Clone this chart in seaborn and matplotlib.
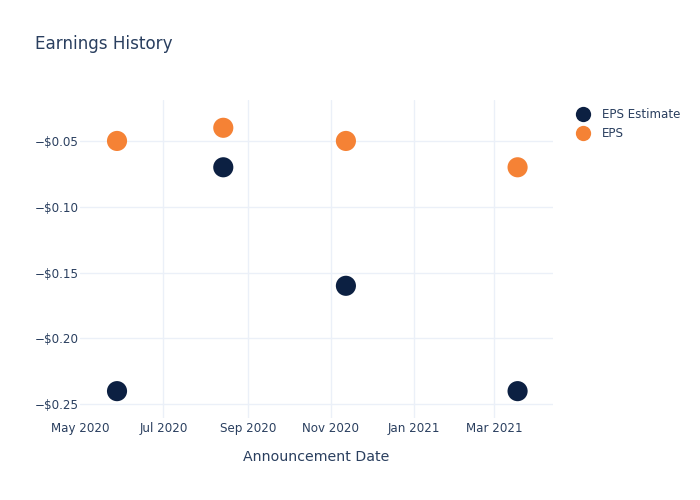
import matplotlib
matplotlib.use("Agg")
import matplotlib.pyplot as plt
import matplotlib.dates as mdates
from matplotlib.ticker import FuncFormatter, FixedLocator
from matplotlib.lines import Line2D
import seaborn as sns
import pandas as pd

dates = ["2020-05-28", "2020-08-14", "2020-11-12", "2021-03-18"]
eps_estimate = [-0.24, -0.07, -0.16, -0.24]
eps_actual = [-0.05, -0.04, -0.05, -0.07]
series_names = ["EPS Estimate", "EPS"]
colors = {"EPS Estimate": "#0c2042", "EPS": "#f58235"}
x_ticks = ["2020-05-01", "2020-07-01", "2020-09-01", "2020-11-01", "2021-01-01", "2021-03-01"]
y_ticks = [-0.25, -0.20, -0.15, -0.10, -0.05]

df = pd.DataFrame({
    "date": pd.to_datetime(dates * 2),
    "value": eps_estimate + eps_actual,
    "series": [series_names[0]] * len(dates) + [series_names[1]] * len(dates),
})

sns.set_theme(style="white")
plt.rcParams["font.family"] = ["DejaVu Sans"]
text_color = "#2a3f5f"
grid_color = "#ebf0f8"

fig = plt.figure(figsize=(7, 5), dpi=100)
ax = fig.add_axes([80 / 700, 1 - 418 / 500, (553 - 80) / 700, (418 - 100) / 500])

sns.scatterplot(data=df, x="date", y="value", hue="series", palette=colors,
                s=210, edgecolor="none", linewidth=0, ax=ax, legend=False, zorder=3)

ax.set_xlim(pd.Timestamp("2020-04-30 20:00"), pd.Timestamp("2021-04-13"))
ax.set_ylim(-0.2604, -0.0189)

ax.xaxis.set_major_locator(FixedLocator(mdates.date2num(pd.to_datetime(x_ticks))))
ax.xaxis.set_major_formatter(mdates.DateFormatter("%b %Y"))
ax.yaxis.set_major_locator(FixedLocator(y_ticks))
ax.yaxis.set_major_formatter(FuncFormatter(lambda v, p: ("\u2212" if v < 0 else "") + "$%.2f" % abs(v)))

ax.grid(True, color=grid_color, linewidth=1, zorder=0)
for s in ax.spines.values():
    s.set_visible(False)
ax.tick_params(axis="both", length=0, labelsize=8.6, colors=text_color)
ax.tick_params(axis="x", pad=3)
ax.tick_params(axis="y", pad=1)

ax.set_xlabel("Announcement Date", fontsize=10.2, color=text_color, labelpad=10.5)
ax.set_ylabel("")

fig.canvas.draw()
xgl = ax.get_xgridlines()
if len(xgl) > 0:
    xgl[0].set_visible(False)

fig.text(35 / 700, 1 - 44 / 500, "Earnings History", fontsize=12.1, color=text_color,
         ha="left", va="center")

handles = [Line2D([0], [0], marker="o", linestyle="none", markersize=11,
                  markerfacecolor=colors[n], markeredgewidth=0) for n in series_names]
leg = fig.legend(handles, series_names, loc="upper left",
                 bbox_to_anchor=(576 / 700, 1 - 108 / 500), frameon=False,
                 fontsize=8.6, handletextpad=1.0, labelspacing=0.52,
                 handlelength=1.2, borderaxespad=0, borderpad=0)
for t in leg.get_texts():
    t.set_color(text_color)

fig.savefig("out.png", dpi=100)
